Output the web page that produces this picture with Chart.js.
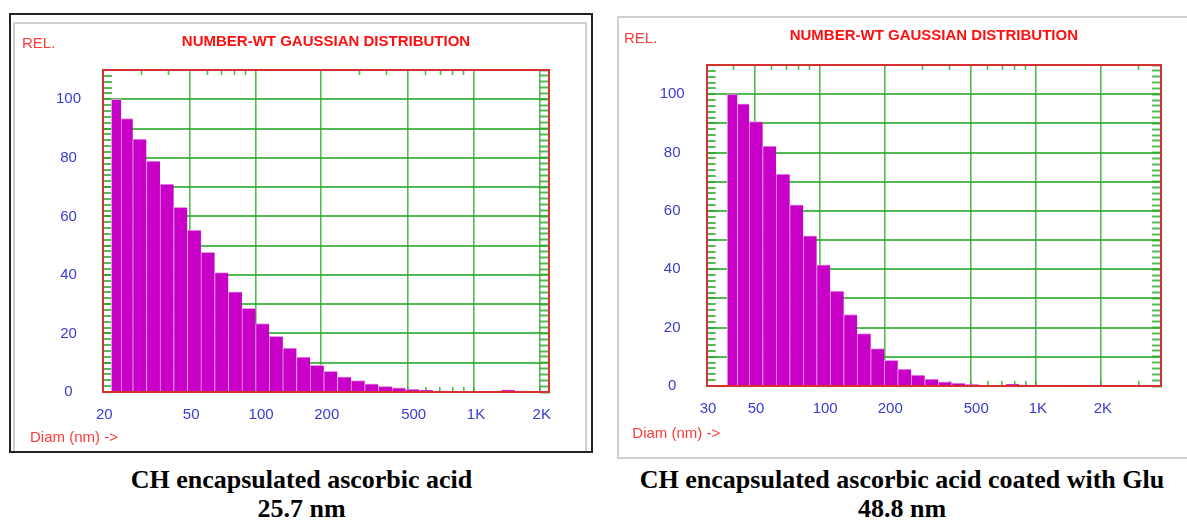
<!DOCTYPE html>
<html>
<head>
<meta charset="utf-8">
<script src="https://cdn.jsdelivr.net/npm/chart.js@4.4.1/dist/chart.umd.min.js"></script>
<style>
  body { margin:0; width:1187px; height:520px; background:#fff; position:relative; overflow:hidden; }
  .frame { position:absolute; left:9px; top:13px; width:580px; height:436px; border:2px solid #222; overflow:hidden; }
  .gray { position:absolute; border:2px solid #d0d0d0; }
  canvas { position:absolute; }
  .caption { position:absolute; top:465px; text-align:center; font:bold 26px 'Liberation Serif', 'Times New Roman', serif; line-height:29px; color:#000; }
</style>
</head>
<body>
<div class="frame">
  <div class="gray" style="left:2px; top:7px; width:570px; height:600px;"></div>
  <canvas id="leftChart" width="570" height="427" style="left:4px; top:9px;"></canvas>
</div>
<div class="gray" style="left:617px; top:16px; width:600px; height:439px;"></div>
<canvas id="rightChart" width="568" height="439" style="left:619px; top:18px;"></canvas>
<div class="caption" style="left:0; width:603px;">CH encapsulated ascorbic acid<br>25.7 nm</div>
<div class="caption" style="left:617px; width:570px;">CH encapsulated ascorbic acid coated with Glu<br>48.8 nm</div>
<script>
// left: CH encapsulated ascorbic acid (bin centres, nm / relative number)
const leftDiam = [23.0, 25.5, 29.4, 34.0, 39.2, 45.3, 52.3, 60.4, 69.8, 80.6, 93.1, 107.5, 124.1, 143.3, 165.5, 191.1,
  220.7, 254.8, 294.3, 339.8, 392.4, 453.2, 523.3, 604.3, 697.8, 805.8, 930.6, 1074.6, 1240.9, 1433.0, 1654.8, 1910.9];
const leftRel = [100, 93.4, 86.4, 78.9, 71.0, 63.1, 55.3, 47.7, 40.8, 34.2, 28.6, 23.4, 19.0, 15.0, 11.9, 9.1,
  7.1, 5.2, 3.9, 2.8, 1.9, 1.4, 0.9, 0.6, 0.35, 0.2, 0.1, 0, 0.05, 0.7, 0.3, 0.2];

// right: coated with Glu
const rightDiam = [39.4, 43.9, 50.7, 58.5, 67.6, 78.1, 90.1, 104.1, 120.2, 138.8, 160.3, 185.1, 213.8,
  246.9, 285.1, 329.2, 380.1, 438.9, 506.9, 585.3, 675.9, 780.5, 901.3, 1040.9, 1202];
const rightRel = [100, 96.7, 90.6, 82.2, 72.6, 62.1, 51.5, 41.5, 32.5, 24.5, 18.0, 12.8, 8.8,
  5.8, 3.7, 2.4, 1.4, 0.9, 0.45, 0.2, 0.1, 0.6, 0.3, 0.1, 0.05];

const leftMajor = [20, 50, 100, 200, 500, 1000, 2000];
const leftMajorText = ['20', '50', '100', '200', '500', '1K', '2K'];
const leftMinor = [30, 40, 60, 70, 80, 90, 300, 400, 600, 700, 800, 900];
const rightMajor = [30, 50, 100, 200, 500, 1000, 2000];
const rightMajorText = ['30', '50', '100', '200', '500', '1K', '2K'];
const rightMinor = [40, 60, 70, 80, 90, 300, 400, 600, 700, 800, 900, 3000];
const relLabels = [0, 20, 40, 60, 80, 100];
const relMax = 110;

const sideTicks = [];
for (let v = 0; v <= relMax; v += 2) sideTicks.push(v);

const SANS = "'Liberation Sans', Arial, sans-serif";
Chart.defaults.font.family = SANS;

const GREEN = 'rgba(40,170,40,0.8)';
const RED = '#d63030';
const BLUE = '#3a3ad0';
const NONE = 'rgba(0,0,0,0)';

const relLabel = {
  id: 'relLabel',
  afterDraw(chart, args, opts) {
    const c = chart.ctx;
    c.save();
    c.font = '15px ' + SANS;
    c.fillStyle = '#ff3a3a';
    c.textBaseline = 'middle';
    c.fillText('REL.', opts.x, opts.y);
    c.restore();
  }
};

function makeChart(id, p) {
  const data = p.diam.map((d, i) => ({x: d, y: p.rel[i]}));
  const allX = p.major.concat(p.minor.filter(v => v < p.xMax)).sort((a, b) => a - b);
  return new Chart(document.getElementById(id), {
    type: 'bar',
    data: {
      datasets: [{
        data: data,
        backgroundColor: '#c800c8',
        borderColor: '#e89be8',
        borderWidth: {left: 1, top: 1, right: 0, bottom: 0},
        borderSkipped: false,
        barThickness: 'flex',
        categoryPercentage: 1,
        barPercentage: 1,
        xAxisID: 'x',
        yAxisID: 'y'
      }]
    },
    options: {
      responsive: false,
      animation: false,
      devicePixelRatio: 1,
      layout: {padding: {left: p.padLeft, top: 0, right: 0, bottom: 0}},
      plugins: {
        legend: {display: false},
        tooltip: {enabled: false},
        title: {
          display: true,
          text: 'NUMBER-WT GAUSSIAN DISTRIBUTION',
          color: '#ff1010',
          fullSize: false,
          font: {size: 15, weight: 'bold', lineHeight: 1},
          padding: {top: p.titleTop, bottom: p.titleBottom}
        },
        subtitle: {
          display: true,
          text: 'Diam (nm) ->',
          position: 'bottom',
          align: 'start',
          color: '#ff3a3a',
          font: {size: 15, lineHeight: 1},
          padding: {top: p.subTop, bottom: p.subBottom}
        },
        relLabel: {x: p.relX, y: p.relY}
      },
      scales: {
        x: {
          type: 'logarithmic',
          position: 'bottom',
          min: p.xMin,
          max: p.xMax,
          offset: false,
          afterBuildTicks: s => { s.ticks = allX.map(v => ({value: v})); },
          afterFit: s => { s.height = 30; },
          grid: {
            offset: false,
            color: c => (p.major.includes(c.tick.value) && c.tick.value !== p.xMin) ? GREEN : NONE,
            tickColor: GREEN,
            lineWidth: 1.6,
            tickWidth: 1.6,
            tickLength: -5
          },
          border: {color: RED, width: 2, z: 1},
          ticks: {
            autoSkip: false,
            maxRotation: 0,
            minRotation: 0,
            align: 'start',
            labelOffset: -7,
            padding: 20,
            color: BLUE,
            font: {size: 15, lineHeight: 1},
            callback: v => { const i = p.major.indexOf(v); return i < 0 ? '' : p.majorText[i]; }
          }
        },
        x2: {
          type: 'logarithmic',
          position: 'top',
          min: p.xMin,
          max: p.xMax,
          offset: false,
          afterBuildTicks: s => { s.ticks = p.minor.filter(v => v < p.xMax).map(v => ({value: v})); },
          afterFit: s => { s.height = 0; },
          grid: {offset: false, drawOnChartArea: false, tickColor: GREEN, tickWidth: 1.6, tickLength: -5},
          border: {color: RED, width: 2, z: 1},
          ticks: {display: false}
        },
        y: {
          type: 'linear',
          position: 'left',
          min: 0,
          max: relMax,
          afterBuildTicks: s => { s.ticks = sideTicks.map(v => ({value: v})); },
          afterFit: s => { s.width = p.yWidth; },
          grid: {
            color: c => (c.tick.value % 10 === 0 && c.tick.value > 0 && c.tick.value < relMax) ? GREEN : NONE,
            tickColor: GREEN,
            lineWidth: 2,
            tickWidth: 2,
            tickLength: -9
          },
          border: {color: RED, width: 2, z: 1},
          ticks: {
            autoSkip: false,
            crossAlign: 'center',
            padding: 31,
            color: BLUE,
            font: {size: 15, lineHeight: 1},
            callback: v => relLabels.includes(v) ? String(v) : ''
          }
        },
        y2: {
          type: 'linear',
          position: 'right',
          min: 0,
          max: relMax,
          afterBuildTicks: s => { s.ticks = sideTicks.map(v => ({value: v})); },
          afterFit: s => { s.width = p.y2Width; },
          grid: {drawOnChartArea: false, tickColor: GREEN, tickWidth: 2, tickLength: -9},
          border: {color: RED, width: 2, z: 1},
          ticks: {display: false}
        }
      }
    },
    plugins: [relLabel]
  });
}

makeChart('leftChart', {
  diam: leftDiam, rel: leftRel,
  major: leftMajor, majorText: leftMajorText, minor: leftMinor,
  xMin: 20, xMax: 2210,
  padLeft: 15, yWidth: 73, y2Width: 36,
  titleTop: 10.5, titleBottom: 20.5, subTop: 8.5, subBottom: 5.5,
  relX: 7, relY: 20
});

makeChart('rightChart', {
  diam: rightDiam, rel: rightRel,
  major: rightMajor, majorText: rightMajorText, minor: rightMinor,
  xMin: 30, xMax: 3800,
  padLeft: 13.3, yWidth: 74.4, y2Width: 26,
  titleTop: 10.8, titleBottom: 21.2, subTop: 10.2, subBottom: 15.8,
  relX: 5, relY: 21
});
</script>
</body>
</html>
